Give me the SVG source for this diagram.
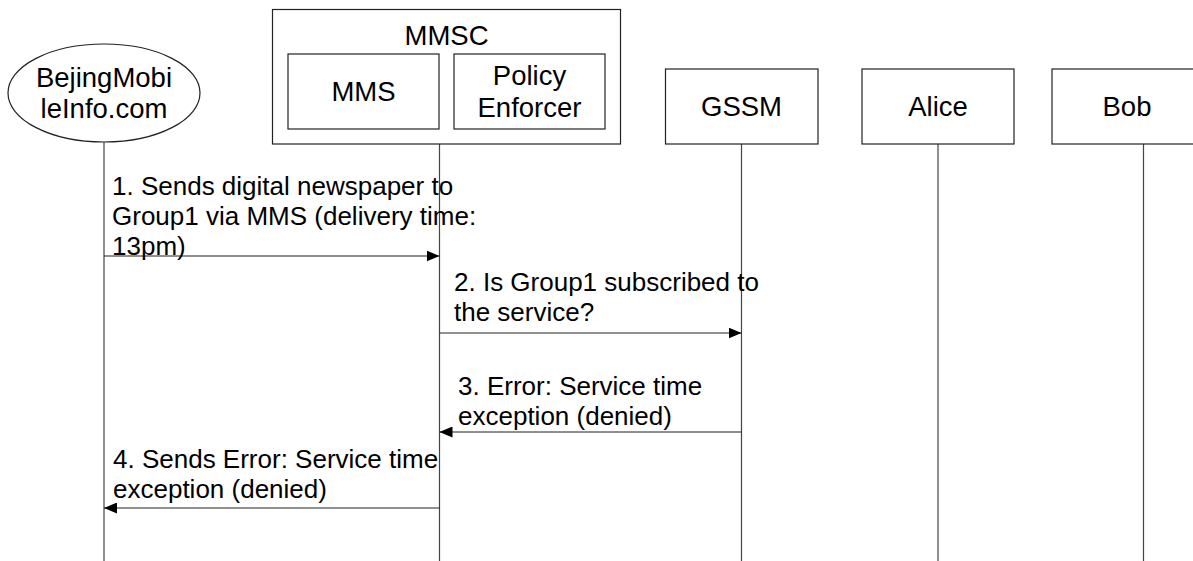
<svg xmlns="http://www.w3.org/2000/svg" width="1193" height="561" viewBox="0 0 1193 561">
<defs>
<style>
.box{fill:#fff;stroke:#222;stroke-width:1.2}
.life{stroke:#444;stroke-width:1.2;fill:none}
.msg{stroke:#222;stroke-width:1.2;fill:none}
.nt{font-family:"Liberation Sans",Arial,sans-serif;font-size:27.5px;fill:#000;text-anchor:middle}
.mt{font-family:"Liberation Sans",Arial,sans-serif;font-size:26px;fill:#000}
</style>
<marker id="ah" viewBox="0 0 13 11" refX="13" refY="5.5" markerWidth="13" markerHeight="11" markerUnits="userSpaceOnUse" orient="auto">
<path d="M0,0 L13,5.5 L0,11 Z" fill="#000"/>
</marker>
</defs>
<rect width="1193" height="561" fill="#fff"/>

<g id="lifelines">
<line class="life" x1="104" y1="142" x2="104" y2="561"/>
<line class="life" x1="439.5" y1="144" x2="439.5" y2="561"/>
<line class="life" x1="741.5" y1="144" x2="741.5" y2="561"/>
<line class="life" x1="938" y1="144" x2="938" y2="561"/>
<line class="life" x1="1143.5" y1="144" x2="1143.5" y2="561"/>
</g>

<g id="node-bejing">
<ellipse class="box" cx="104" cy="93" rx="96" ry="49"/>
<text class="nt" x="104" y="87">BejingMobi</text>
<text class="nt" x="104" y="118">leInfo.com</text>
</g>

<g id="node-mmsc">
<rect class="box" x="272.5" y="9.5" width="348" height="134.5"/>
<text class="nt" x="446.5" y="45">MMSC</text>
<g id="node-mms">
<rect class="box" x="288" y="54" width="151" height="75"/>
<text class="nt" x="363.5" y="101">MMS</text>
</g>
<g id="node-policy">
<rect class="box" x="454" y="54" width="151" height="75"/>
<text class="nt" x="529.5" y="85">Policy</text>
<text class="nt" x="529.5" y="117">Enforcer</text>
</g>
</g>

<g id="node-gssm">
<rect class="box" x="665.5" y="69" width="152.5" height="75"/>
<text class="nt" x="741.5" y="116">GSSM</text>
</g>

<g id="node-alice">
<rect class="box" x="862" y="69" width="152" height="75"/>
<text class="nt" x="938" y="116">Alice</text>
</g>

<g id="node-bob">
<rect class="box" x="1052" y="69" width="153" height="75"/>
<text class="nt" x="1127" y="116">Bob</text>
</g>

<g id="connectors">
<line class="msg" x1="104" y1="256" x2="439.5" y2="256" marker-end="url(#ah)"/>
<line class="msg" x1="439.5" y1="333" x2="741.5" y2="333" marker-end="url(#ah)"/>
<line class="msg" x1="741.5" y1="432" x2="439.5" y2="432" marker-end="url(#ah)"/>
<line class="msg" x1="439.5" y1="508" x2="104" y2="508" marker-end="url(#ah)"/>
</g>

<g id="labels">
<text class="mt" x="112" y="195">1. Sends digital newspaper to</text>
<text class="mt" x="112" y="225">Group1 via MMS (delivery time:</text>
<text class="mt" x="112" y="255">13pm)</text>
<text class="mt" x="454" y="291">2. Is Group1 subscribed to</text>
<text class="mt" x="454" y="321">the service?</text>
<text class="mt" x="458" y="395">3. Error: Service time</text>
<text class="mt" x="458" y="425">exception (denied)</text>
<text class="mt" x="113" y="468">4. Sends Error: Service time</text>
<text class="mt" x="113" y="498">exception (denied)</text>
</g>
</svg>
